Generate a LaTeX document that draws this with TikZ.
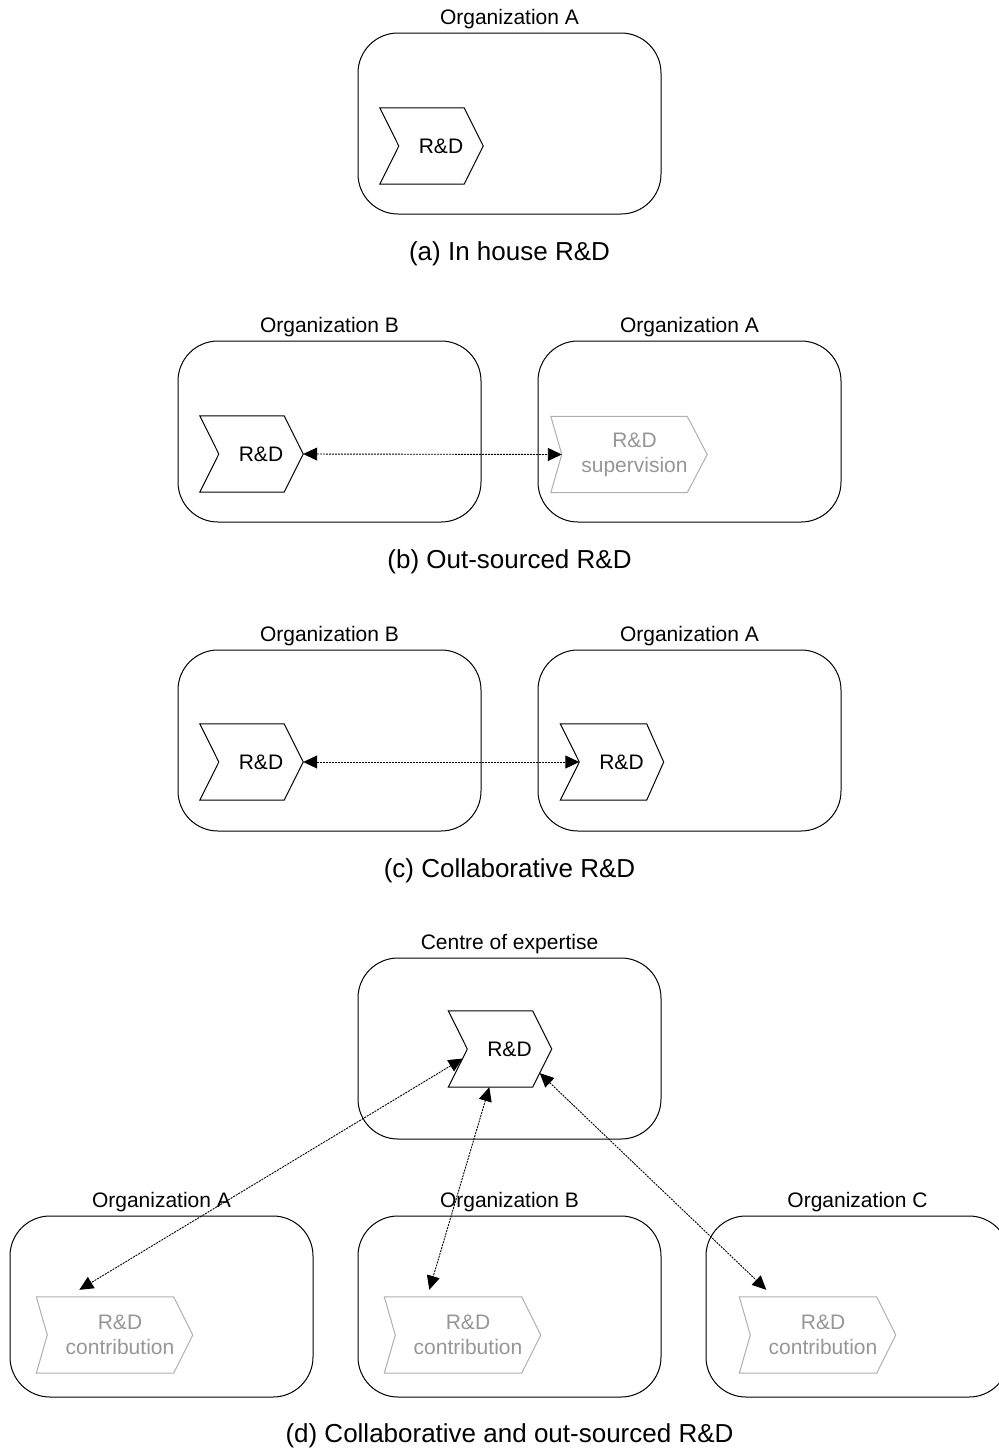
\documentclass[tikz,border=0pt]{standalone}
\usepackage{fontspec}
\setmainfont{Liberation Sans}
\usetikzlibrary{positioning, arrows.meta, calc}

\definecolor{faintline}{RGB}{175,175,175}
\definecolor{fainttext}{RGB}{150,150,150}

\tikzset{
  orgbox/.style={draw, line width=1pt, rounded corners=40pt, minimum width=303pt, minimum height=181pt, inner sep=0pt,
    label={[orglabel, label distance=0pt]above:#1}},
  orglabel/.style={font=\fontsize{21}{24}\selectfont},
  caption/.style={font=\fontsize{26}{30}\selectfont},
  rdtag/.style={minimum width=84pt, minimum height=76pt, inner sep=0pt, align=center, font=\fontsize{21}{25}\selectfont},
  rdfaint/.style={rdtag, minimum width=145pt, text=fainttext},
  link/.style={line width=0.9pt, dash pattern=on 2pt off 1pt, {Triangle[length=14pt, width=13pt]}-{Triangle[length=14pt, width=13pt]}}
}

% chevron outline round a tag node: colour, node, notch depth, tip depth
\newcommand{\rdoutline}[4][black]{%
  \draw[#1, line width=1pt] ([xshift=-#3pt]#2.north west) -- ([xshift=-#4pt]#2.north east) -- (#2.east)
    -- ([xshift=-#4pt]#2.south east) -- ([xshift=-#3pt]#2.south west) -- (#2.west) -- cycle;}

\begin{document}
\begin{tikzpicture}[x=1pt, y=-1pt]
  \useasboundingbox (0,0) rectangle (999,1449);

  % (a) in house
  \node[orgbox={Organization A}] (aOrgA) at (509.5,123.5) {};
  \node[rdtag] (aRd) at (441,146) {R\&D};
  \rdoutline{aRd}{19}{19}
  \node[caption] (aCap) at (509.5,254) {(a) In house R\&D};

  % (b) out-sourced
  \node[orgbox={Organization B}] (bOrgB) at (329.5,431.5) {};
  \node[orgbox={Organization A}] (bOrgA) at (689.5,431.5) {};
  \node[rdtag] (bRd) at (261,454) {R\&D};
  \rdoutline{bRd}{19}{19}
  \node[rdfaint] (bSup) at (634.5,454.5) {R\&D\\supervision};
  \rdoutline[faintline]{bSup}{11}{20}
  \draw[link] (bRd.east) -- (bSup.west);
  \node[caption] (bCap) at (509.5,562) {(b) Out-sourced R\&D};

  % (c) collaborative
  \node[orgbox={Organization B}] (cOrgB) at (329.5,740.5) {};
  \node[orgbox={Organization A}] (cOrgA) at (689.5,740.5) {};
  \node[rdtag] (cRdB) at (261,762) {R\&D};
  \rdoutline{cRdB}{19}{19}
  \node[rdtag] (cRdA) at (621.5,762) {R\&D};
  \rdoutline{cRdA}{19}{17}
  \draw[link] (cRdB.east) -- (cRdA.west);
  \node[caption] (cCap) at (509.5,871) {(c) Collaborative R\&D};

  % (d) collaborative and out-sourced
  \node[orgbox={Centre of expertise}] (dCentre) at (509.5,1048.5) {};
  \node[rdtag] (dRd) at (509.5,1049) {R\&D};
  \rdoutline{dRd}{19}{19}
  \foreach \org/\x/\tx in {A/161.5/120, B/509.5/468, C/857.5/823}{
    \node[orgbox={Organization \org}] (dOrg\org) at (\x,1306.5) {};
    \node[rdfaint] (dTag\org) at (\tx,1335) {R\&D\\contribution};
    \rdoutline[faintline]{dTag\org}{11}{19}
  }
  \draw[link] ($(dRd.west)!0.25!([xshift=-19pt]dRd.south west)$) -- ([shift={(32pt,7pt)}]dTagA.north west);
  \draw[link] ([xshift=22pt]dRd.south west) -- ([shift={(34pt,7pt)}]dTagB.north west);
  \draw[link] ($(dRd.east)!0.63!([xshift=-19pt]dRd.south east)$) -- ([shift={(16pt,7pt)}]dTagC.north west);
  \node[caption] (dCap) at (509.5,1436) {(d) Collaborative and out-sourced R\&D};
\end{tikzpicture}
\end{document}
